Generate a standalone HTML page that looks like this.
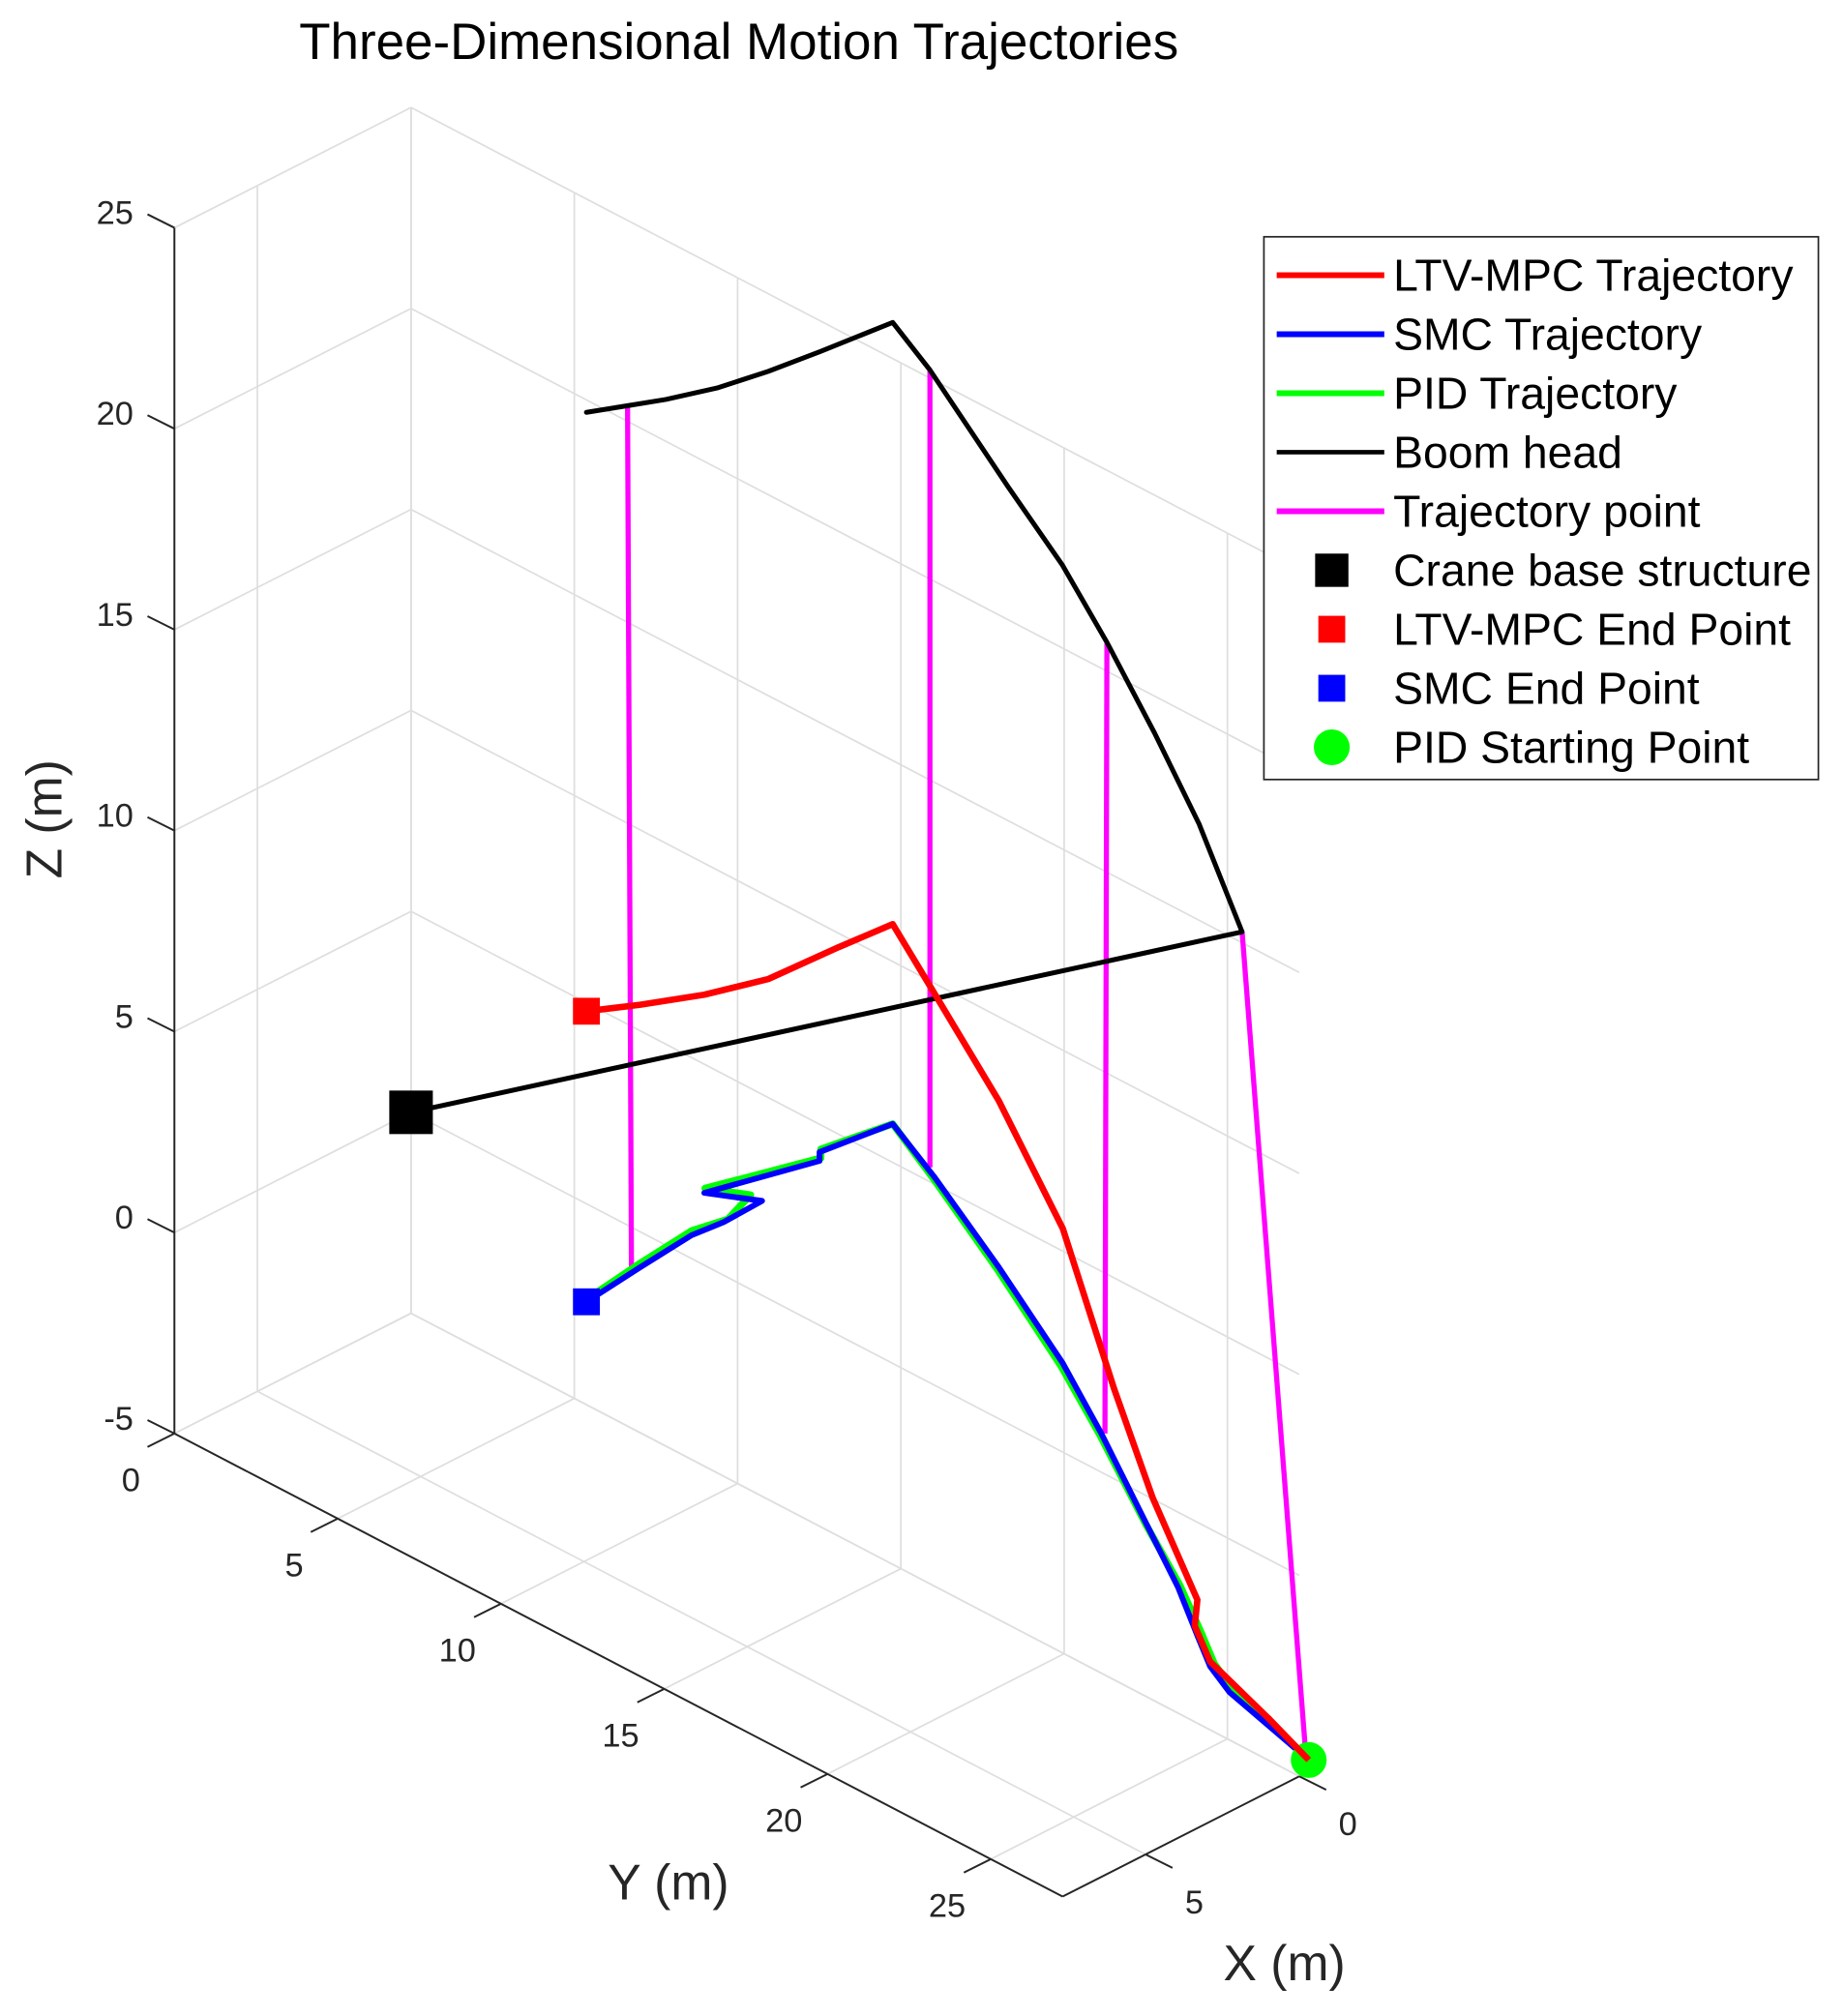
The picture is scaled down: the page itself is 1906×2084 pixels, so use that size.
<!DOCTYPE html>
<html><head><meta charset="utf-8"><style>
html,body{margin:0;padding:0;background:#fff;}
svg{display:block;font-family:"Liberation Sans",Arial,sans-serif;}
</style></head><body>
<svg id="chart" width="1906" height="2084" viewBox="0 0 1440 1575" preserveAspectRatio="none" xmlns="http://www.w3.org/2000/svg">
<rect x="0" y="0" width="1440" height="1575" fill="#fff"/>
<g id="grid"></g>
<g id="axes"></g>
<g id="series"></g>
<text x="577" y="46" font-size="40" text-anchor="middle" fill="#000">Three-Dimensional Motion Trajectories</text>
<text transform="translate(48,640) rotate(-90)" font-size="39" text-anchor="middle" fill="#262626">Z (m)</text>
<text x="522" y="1484" font-size="39" text-anchor="middle" fill="#262626">Y (m)</text>
<text x="1003" y="1547" font-size="39" text-anchor="middle" fill="#262626">X (m)</text>
<g id="legend"></g>
</svg>
<script>
// axis limits & ticks
const xLim = [0, 7.7];
const yLim = [0, 27.2];
const zLim = [-5, 25];
const xTicks = [0, 5];
const yTicks = [0, 5, 10, 15, 20, 25];
const zTicks = [-5, 0, 5, 10, 15, 20, 25];

// series data (x = 0 plane, y/z)
const boomY = [0, 25.45, 24.13, 22.77, 21.31, 19.94, 18.28, 15.89, 14.75, 12.51, 10.94, 9.37, 7.80, 6.63, 5.37];
const boomZ = [0, 15.27, 17.40, 19.08, 20.72, 22.07, 23.31, 25.20, 25.9, 24.22, 23.07, 21.99, 21.04, 20.39, 19.69];

const ltvY = [27.49, 26.24, 24.47, 24.0, 24.08, 22.71, 21.53, 19.96, 18.0, 16.24, 14.75, 13.10, 10.94, 8.98, 7.02, 5.37];
const ltvZ = [-4.47, -3.95, -3.30, -2.61, -1.93, 0.03, 2.24, 5.56, 7.91, 9.55, 10.93, 9.66, 7.95, 6.73, 5.65, 4.79];

const smcY = [27.49, 25.06, 24.47, 24.08, 23.49, 22.51, 21.14, 19.96, 18.0, 16.04, 14.75, 12.51, 12.51, 8.98, 10.75, 9.57, 8.59, 7.02, 5.37];
const smcZ = [-4.47, -3.81, -3.42, -2.82, -1.87, -0.69, 0.96, 2.21, 3.77, 5.17, 5.96, 4.31, 4.09, 1.80, 2.35, 1.32, 0.58, -0.88, -2.44];

const pidY = [27.49, 25.2, 24.6, 24.2, 23.55, 22.5, 21.1, 19.9, 17.95, 16.0, 14.75, 12.55, 12.55, 9.0, 10.4, 9.7, 8.6, 7.05, 5.45];
const pidZ = [-4.47, -3.72, -3.30, -2.70, -1.80, -0.72, 0.90, 2.12, 3.70, 5.12, 5.96, 4.40, 4.18, 1.92, 2.35, 1.45, 0.70, -0.75, -2.30];

// trajectory point (plumb) lines: top and bottom ends
const plumbTopY = [6.63, 15.89, 21.31, 25.45];
const plumbTopZ = [20.39, 25.20, 20.72, 15.27];
const plumbBotY = [6.75, 15.89, 21.25, 27.41];
const plumbBotZ = [-1.16, 5.36, 1.01, -4.47];

// projection
const O = [321, 1026]; // x=0,y=0,z=-5
const EX = [-24.0, 12.2], EY = [25.5, 13.3], EZ = [0, -31.4];
function P(x, y, z) {
  return [O[0] + EX[0]*x + EY[0]*y, O[1] + EX[1]*x + EY[1]*y + EZ[1]*(z - zLim[0])];
}
const NS = "http://www.w3.org/2000/svg";
function mk(tag, attrs, parent) {
  const e = document.createElementNS(NS, tag);
  for (const k in attrs) e.setAttribute(k, attrs[k]);
  parent.appendChild(e);
  return e;
}
function line(a, b, stroke, w, parent) {
  return mk('line', {x1:a[0], y1:a[1], x2:b[0], y2:b[1], stroke:stroke, 'stroke-width':w}, parent);
}
const grid = document.getElementById('grid');
const axes = document.getElementById('axes');
const series = document.getElementById('series');
const gc = '#dedede', gw = 1.3;
let el;
yTicks.forEach(y => {
  el = line(P(0,y,zLim[0]), P(0,y,zLim[1]), gc, gw, grid);
  
  
  el = line(P(0,y,zLim[0]), P(xLim[1],y,zLim[0]), gc, gw, grid);
  
  
});
zTicks.forEach(z => {
  el = line(P(0,yLim[0],z), P(0,yLim[1],z), gc, gw, grid);
  
  
  el = line(P(0,0,z), P(xLim[1],0,z), gc, gw, grid);
  
  
});
xTicks.forEach(x => {
  el = line(P(x,0,zLim[0]), P(x,0,zLim[1]), gc, gw, grid);
  
  
  el = line(P(x,yLim[0],zLim[0]), P(x,yLim[1],zLim[0]), gc, gw, grid);
  
  
});
const ac = '#262626';
el = line(P(xLim[1],0,zLim[0]), P(xLim[1],0,zLim[1]), ac, 1.5, axes);


el = line(P(xLim[1],yLim[0],zLim[0]), P(xLim[1],yLim[1],zLim[0]), ac, 1.5, axes);


el = line(P(xLim[0],yLim[1],zLim[0]), P(xLim[1],yLim[1],zLim[0]), ac, 1.5, axes);


zTicks.forEach(z => {
  const a = P(xLim[1],0,z);
  el = line(a, [a[0]-21, a[1]-10.5], ac, 1.5, axes);
  
  
  el = mk('text', {x:a[0]-32, y:a[1]-3, 'font-size':26, 'text-anchor':'end', fill:ac}, axes);
  el.textContent = z;
  
  
});
yTicks.forEach(y => {
  const a = P(xLim[1],y,zLim[0]);
  el = line(a, [a[0]-21, a[1]+10.5], ac, 1.5, axes);
  
  
  el = mk('text', {x:a[0]-34, y:a[1]+45, 'font-size':26, 'text-anchor':'middle', fill:ac}, axes);
  el.textContent = y;
  
  
});
xTicks.forEach(x => {
  const a = P(x,yLim[1],zLim[0]);
  el = line(a, [a[0]+21, a[1]+10.5], ac, 1.5, axes);
  
  
  el = mk('text', {x:a[0]+38, y:a[1]+46, 'font-size':26, 'text-anchor':'middle', fill:ac}, axes);
  el.textContent = x;
  
  
});
function poly(ys, zs, color, w) {
  const pts = ys.map((y,i) => P(0,y,zs[i]).join(',')).join(' ');
  return mk('polyline', {points:pts, fill:'none', stroke:color, 'stroke-width':w, 'stroke-linejoin':'round', 'stroke-linecap':'round'}, series);
}
plumbTopY.forEach((y,i) => {
  el = line(P(0,y,plumbTopZ[i]), P(0,plumbBotY[i],plumbBotZ[i]), '#ff00ff', 4, series);
  
  
});
el = poly(boomY, boomZ, '#000', 3.8);


el = poly(pidY, pidZ, '#00ff00', 5.5);


el = poly(smcY, smcZ, '#0000ff', 4.5);


el = poly(ltvY, ltvZ, '#ff0000', 5);


function sq(c, s, color) { return mk('rect', {x:c[0]-s/2, y:c[1]-s/2, width:s, height:s, fill:color}, series); }
el = sq(P(0,boomY[0],boomZ[0]), 34, '#000');


el = sq(P(0,ltvY[ltvY.length-1],ltvZ[ltvZ.length-1]), 21, '#ff0000');


el = sq(P(0,smcY[smcY.length-1],smcZ[smcZ.length-1]), 21, '#0000ff');


const ps = P(0,pidY[0],pidZ[0]);
el = mk('circle', {cx:ps[0], cy:ps[1], r:14, fill:'#00ff00'}, series);


el = mk('polyline', {points:[P(0,ltvY[0],ltvZ[0]).join(','), P(0,ltvY[1],ltvZ[1]).join(',')].join(' '), stroke:'#ff0000','stroke-width':5,fill:'none'}, series);



const legend = document.getElementById('legend');
const legLabels = ['LTV-MPC Trajectory','SMC Trajectory','PID Trajectory','Boom head','Trajectory point','Crane base structure','LTV-MPC End Point','SMC End Point','PID Starting Point'];
const legColors = ['#ff0000','#0000ff','#00ff00','#000000','#ff00ff','#000000','#ff0000','#0000ff','#00ff00'];
const legKinds = ['line','line','line','line','line','square','square','square','circle'];
el = mk('rect', {x:987, y:185, width:433, height:424, fill:'#fff', stroke:'#262626', 'stroke-width':1.3}, legend);


legLabels.forEach((lab,i) => {
  const y = 215 + i*46.1;
  const g = mk('g', {}, legend);
  
  
  if (legKinds[i] === 'line') mk('line', {x1:997, y1:y, x2:1081, y2:y, stroke:legColors[i], 'stroke-width':i===3?3.5:4.5}, g);
  else if (legKinds[i] === 'square') { const s = i===5?26:21; mk('rect', {x:1040-s/2, y:y-s/2, width:s, height:s, fill:legColors[i]}, g); }
  else mk('circle', {cx:1040, cy:y, r:14, fill:legColors[i]}, g);
  const t = mk('text', {x:1088, y:y+12, 'font-size':35, fill:'#000'}, g);
  t.textContent = lab;
});
</script>
</body></html>
